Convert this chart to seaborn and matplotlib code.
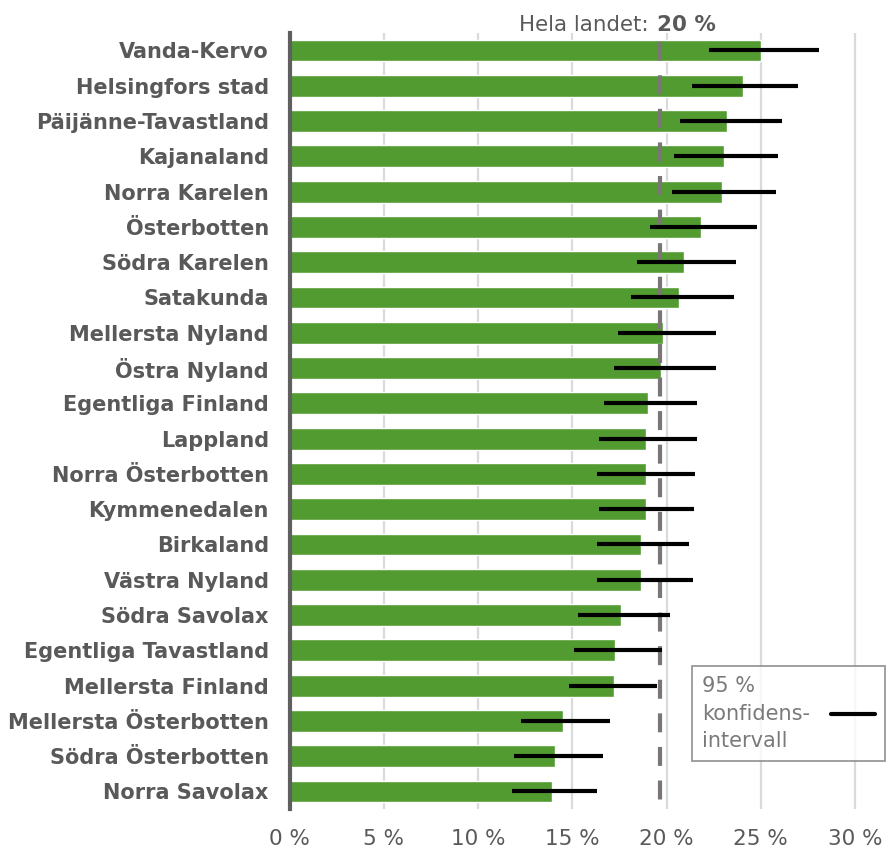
# share per region with 95 % confidence interval, national level as dashed line

import matplotlib
matplotlib.use("Agg")
import matplotlib.pyplot as plt
import seaborn as sns
import pandas as pd
from matplotlib.lines import Line2D

regions = ["Vanda-Kervo", "Helsingfors stad", "Päijänne-Tavastland", "Kajanaland",
           "Norra Karelen", "Österbotten", "Södra Karelen", "Satakunda",
           "Mellersta Nyland", "Östra Nyland", "Egentliga Finland", "Lappland",
           "Norra Österbotten", "Kymmenedalen", "Birkaland", "Västra Nyland",
           "Södra Savolax", "Egentliga Tavastland", "Mellersta Finland",
           "Mellersta Österbotten", "Södra Österbotten", "Norra Savolax"]
share = [25.0, 24.05, 23.2, 23.05, 22.95, 21.8, 20.9, 20.65, 19.8, 19.7, 19.0, 18.9,
         18.9, 18.9, 18.65, 18.65, 17.6, 17.25, 17.2, 14.5, 14.1, 13.9]
ci_low = [22.25, 21.35, 20.7, 20.4, 20.3, 19.1, 18.45, 18.1, 17.4, 17.2, 16.7, 16.4,
          16.3, 16.4, 16.3, 16.3, 15.3, 15.1, 14.8, 12.3, 11.9, 11.8]
ci_high = [28.1, 26.95, 26.1, 25.9, 25.8, 24.8, 23.7, 23.6, 22.6, 22.6, 21.6, 21.6,
           21.5, 21.45, 21.2, 21.4, 20.2, 19.75, 19.5, 17.0, 16.6, 16.3]
national = 19.65
national_label = "20 %"
xticks = [0, 5, 10, 15, 20, 25, 30]
xticklabels = [f"{t} %" for t in xticks]
legend_label = "95 %\nkonfidens-\nintervall"

df = pd.DataFrame({"region": regions, "share": share, "lo": ci_low, "hi": ci_high})

sns.set_style("white")
plt.rcParams["font.family"] = ["DejaVu Sans"]

grey_txt = "#595959"
green = "#529b30"

fig = plt.figure(figsize=(8.86, 8.5), dpi=100)
ax = fig.add_axes([0.3269, 0.0481, 0.668, 0.9133])

sns.barplot(data=df, x="share", y="region", color=green, saturation=1,
            width=0.62, orient="h", ax=ax, zorder=2)

# national level
ax.vlines(national, -0.5, len(regions) - 0.5, colors="#7a7676", lw=3,
          linestyles=[(5.98, (4.56, 3.5))], zorder=3)

# confidence intervals
ax.hlines(range(len(regions)), df["lo"], df["hi"], colors="black", lw=3, zorder=4)

ax.set_xlim(0, 31.4)
ax.set_ylim(len(regions) - 0.5, -0.5)
ax.set_xticks(xticks)
ax.set_xticklabels(xticklabels, fontsize=15.5, color=grey_txt)
ax.set_yticks(range(len(regions)))
ax.set_yticklabels(regions, fontsize=15, fontweight="bold", color=grey_txt)
ax.tick_params(axis="x", length=0, pad=14.5)
ax.tick_params(axis="y", length=0, pad=15)
ax.set_xlabel("")
ax.set_ylabel("")

ax.grid(axis="x", color="#d9dadd", lw=1.6, zorder=0)
ax.set_axisbelow(True)
for s in ["top", "right", "bottom"]:
    ax.spines[s].set_visible(False)
ax.spines["left"].set_color("#5f5f5f")
ax.spines["left"].set_linewidth(3)
ax.spines["left"].set_zorder(5)

ax.annotate("Hela landet:", xy=(national, -0.5), xytext=(-8, 1),
            textcoords="offset points", ha="right", va="baseline",
            fontsize=15.4, color=grey_txt, annotation_clip=False)
ax.annotate(national_label, xy=(national, -0.5), xytext=(-2, 1),
            textcoords="offset points", ha="left", va="baseline",
            fontsize=15.4, fontweight="bold", color=grey_txt, annotation_clip=False)

handle = Line2D([], [], color="black", lw=3)
leg = fig.legend([handle], [legend_label], loc="upper right",
                 bbox_to_anchor=(885 / 886, 1 - 666 / 850), frameon=True,
                 fancybox=False, edgecolor="#7f7f7f", fontsize=15,
                 markerfirst=False, handlelength=2.1, handletextpad=1.0,
                 borderpad=0.5, borderaxespad=0)
leg.get_frame().set_linewidth(1.3)
for t in leg.get_texts():
    t.set_color("#7a7a7a")
    t.set_linespacing(1.45)

fig.savefig("out.png", dpi=100)
